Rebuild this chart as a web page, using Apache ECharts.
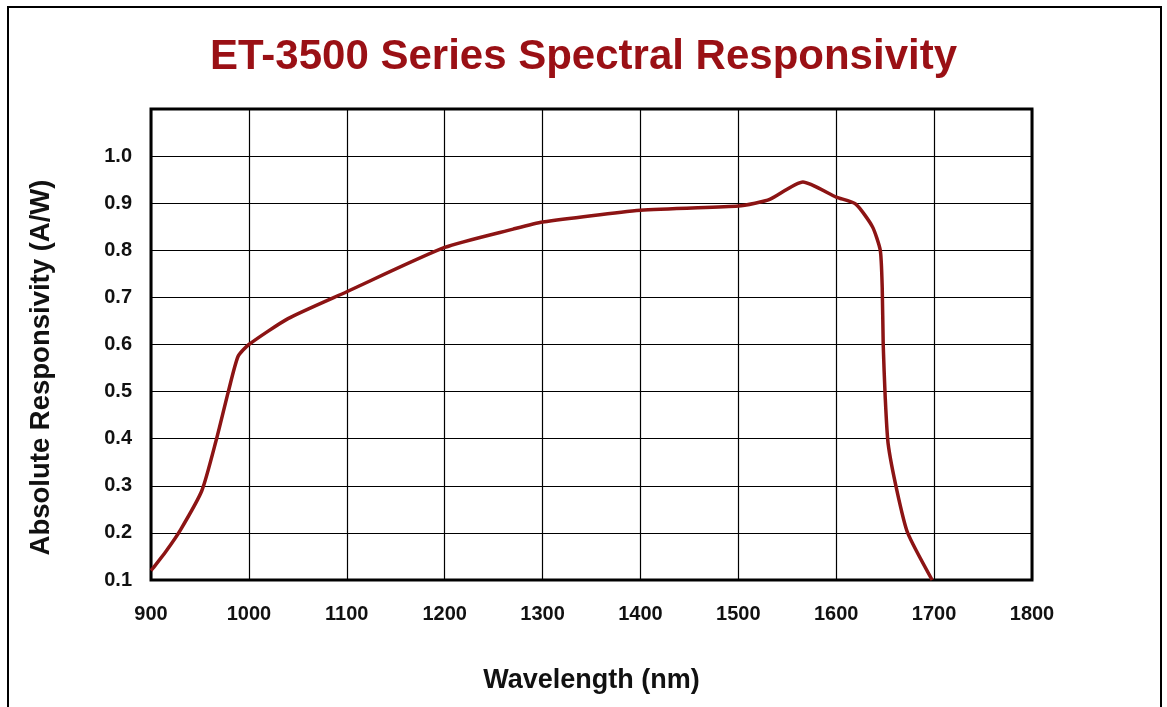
<!DOCTYPE html>
<html>
<head>
<meta charset="utf-8">
<script src="https://cdn.jsdelivr.net/npm/echarts@6/dist/echarts.min.js"></script>
<style>
  html, body { margin: 0; padding: 0; background: #fff; }
  #wrap { position: relative; width: 1167px; height: 707px; overflow: hidden; }
  #frame { position: absolute; left: 7px; top: 6px; width: 1155px; height: 720px; border: 2px solid #000; box-sizing: border-box; }
  #chart { position: absolute; left: 0; top: 0; width: 1167px; height: 707px; }
</style>
</head>
<body>
<div id="wrap">
  <div id="frame"></div>
  <div id="chart"></div>
</div>
<script>
// wavelength (nm) and responsivity (A/W)
const wavelength = [900, 902, 915, 930, 952, 967, 979, 989, 1000, 1040, 1100, 1200, 1270, 1300, 1400, 1500, 1517, 1532, 1566, 1600, 1620, 1637, 1645, 1647, 1648, 1650, 1653, 1662, 1673, 1698];
const responsivity = [0.12, 0.125, 0.16, 0.206, 0.29, 0.40, 0.50, 0.575, 0.60, 0.655, 0.712, 0.806, 0.845, 0.86, 0.885, 0.894, 0.90, 0.908, 0.945, 0.913, 0.898, 0.85, 0.80, 0.72, 0.60, 0.49, 0.39, 0.29, 0.20, 0.10];

const titleText = "ET-3500 Series Spectral Responsivity";
const xName = "Wavelength (nm)";
const yName = "Absolute Responsivity (A/W)";

let points = wavelength.map((w, i) => [w, responsivity[i]]);

let myChart = echarts.init(document.getElementById("chart"));
myChart.setOption({
  animation: false,
  title: {
    text: titleText,
    left: "center",
    top: 31,
    textStyle: {
      fontFamily: "Liberation Sans",
      fontSize: 42,
      fontWeight: "bold",
      color: "#9a1015",
    },
  },
  grid: {
    left: 151,
    top: 109,
    right: 135,
    bottom: 127,
    show: true,
    borderColor: "#000",
    borderWidth: 3,
  },
  xAxis: {
    type: "value",
    min: 900,
    max: 1800,
    interval: 100,
    name: xName,
    nameLocation: "middle",
    nameGap: 87,
    nameTextStyle: {
      fontFamily: "Liberation Sans",
      fontSize: 27,
      fontWeight: "bold",
      color: "#111",
    },
    axisLine: { show: false },
    axisTick: { show: false },
    axisLabel: {
      margin: 24,
      fontFamily: "Liberation Sans",
      fontSize: 20,
      fontWeight: "bold",
      color: "#111",
      formatter: function (v) {
        return String(v);
      },
    },
    splitLine: { lineStyle: { color: "#000", width: 1.2 } },
  },
  yAxis: {
    type: "value",
    min: 0.1,
    max: 1.1,
    interval: 0.1,
    name: yName,
    nameLocation: "middle",
    nameGap: 96,
    nameTextStyle: {
      fontFamily: "Liberation Sans",
      fontSize: 27.5,
      fontWeight: "bold",
      color: "#111",
      padding: [0, 46, 0, 0],
    },
    axisLine: { show: false },
    axisTick: { show: false },
    axisLabel: {
      margin: 19,
      fontFamily: "Liberation Sans",
      fontSize: 20,
      fontWeight: "bold",
      color: "#111",
      formatter: function (v) {
        return v > 1.05 ? "" : v.toFixed(1);
      },
    },
    splitLine: { lineStyle: { color: "#000", width: 1.2 } },
  },
  series: [
    {
      type: "line",
      data: points,
      smooth: 0.2,
      showSymbol: false,
      lineStyle: { color: "#8c1414", width: 3.5 },
    },
  ],
});
</script>
</body>
</html>
